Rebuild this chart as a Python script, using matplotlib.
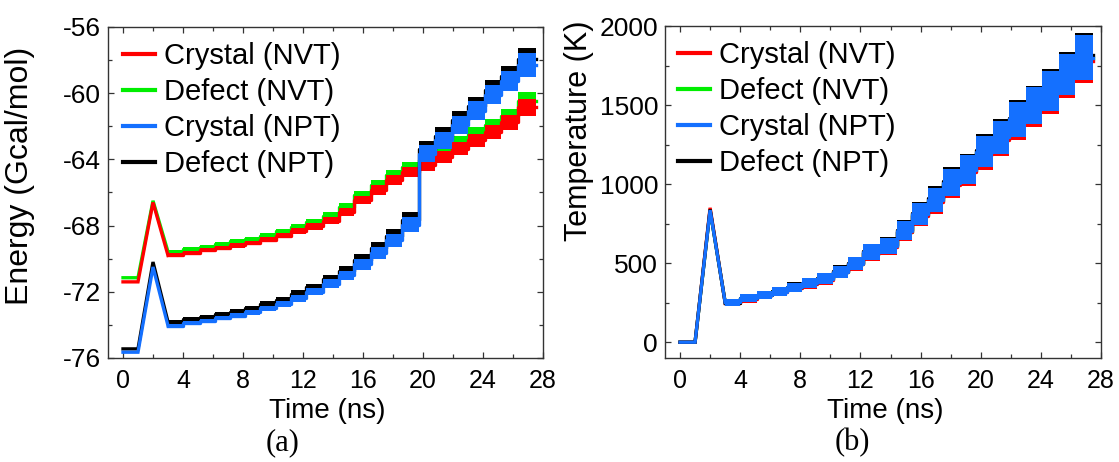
import matplotlib
matplotlib.use("Agg")
import matplotlib.pyplot as plt
import numpy as np
from matplotlib.ticker import MultipleLocator

plt.rcParams['font.family'] = ['Liberation Sans', 'DejaVu Sans']
plt.rcParams['axes.unicode_minus'] = False

# heating ramp: hold, spike at 2 ns, quench at 3 ns
ramp_t = [0.0, 1.0, 2.0, 3.0]
# start of every 1 ns-ish heating stage, last stage ends at t_end
seg_t = [3.0, 4.0, 5.1, 6.1, 7.1, 8.1, 9.1, 10.2, 11.2, 12.2, 13.3, 14.4,
         15.4, 16.5, 17.5, 18.6, 19.7, 20.8, 21.9, 23.0, 24.1, 25.2, 26.3]
t_end = 27.5

names = ['Crystal (NVT)', 'Defect (NVT)', 'Crystal (NPT)', 'Defect (NPT)']
colors = ['#ff0000', '#00ee00', '#1470ff', '#000000']

# energy (Gcal/mol)
e_hold = [-71.40, -71.15, -75.65, -75.45]
e_peak = [-66.60, -66.50, -70.50, -70.20]
e_red = [-69.80, -69.65, -69.50, -69.35, -69.20, -69.05, -68.85, -68.60, -68.35, -68.05, -67.70, -67.15,
         -66.45, -65.85, -65.25, -64.75, -64.35, -63.85, -63.35, -62.85, -62.35, -61.75, -60.85]
e_green = [-69.58, -69.42, -69.27, -69.12, -68.96, -68.80, -68.60, -68.34, -68.08, -67.78, -67.42, -66.85,
           -66.15, -65.55, -64.95, -64.45, -64.02, -63.50, -62.98, -62.45, -61.95, -61.38, -60.45]
e_blue = [-74.05, -73.90, -73.75, -73.60, -73.45, -73.25, -73.00, -72.75, -72.40, -72.00, -71.50, -71.00,
          -70.35, -69.65, -68.90, -67.95, -63.65, -62.85, -61.90, -61.05, -60.10, -59.25, -58.30]
e_black = [-73.82, -73.66, -73.50, -73.35, -73.20, -72.98, -72.74, -72.48, -72.12, -71.72, -71.22, -70.72,
           -70.06, -69.36, -68.60, -67.65, -63.38, -62.58, -61.62, -60.76, -59.80, -58.95, -57.95]
# fluctuation half-width per stage
e_spread_nvt = [0.12, 0.12, 0.12, 0.12, 0.13, 0.14, 0.15, 0.16, 0.18, 0.20, 0.22, 0.24,
                0.26, 0.28, 0.30, 0.32, 0.34, 0.36, 0.38, 0.40, 0.42, 0.45, 0.50]
e_spread_npt = [0.12, 0.12, 0.12, 0.13, 0.14, 0.15, 0.16, 0.18, 0.20, 0.22, 0.25, 0.28,
                0.32, 0.36, 0.40, 0.45, 0.50, 0.52, 0.55, 0.55, 0.58, 0.60, 0.70]

# temperature (K)
t_hold = [0, 0, 0, 0]
t_peak = [850, 835, 835, 840]
t_red = [250, 275, 296, 318, 345, 370, 396, 443, 492, 562, 603, 698,
         800, 888, 995, 1078, 1188, 1280, 1392, 1478, 1570, 1675, 1780]
t_green = [254, 279, 299, 322, 348, 372, 401, 447, 496, 566, 608, 700,
           802, 890, 1000, 1085, 1196, 1288, 1400, 1488, 1582, 1690, 1795]
t_blue = [252, 278, 297, 320, 347, 373, 400, 446, 497, 570, 610, 705,
          810, 900, 1010, 1092, 1205, 1295, 1410, 1495, 1590, 1695, 1800]
t_black = [251, 280, 300, 323, 350, 377, 404, 450, 500, 575, 616, 712,
           818, 910, 1020, 1102, 1215, 1306, 1420, 1505, 1600, 1708, 1815]
t_spread = [22, 25, 25, 28, 30, 32, 35, 38, 42, 48, 52, 60,
            68, 75, 85, 90, 100, 105, 110, 118, 125, 130, 140]

LW = 2.4
zorders = [3, 2, 5, 4]


def draw_series(ax, hold, peak, levels, spread, color, z):
    ramp_v = [hold, hold, peak, levels[0]]
    ax.plot(ramp_t, ramp_v, color=color, lw=LW, zorder=z, solid_joinstyle='miter')
    xs = np.array(seg_t + [t_end])
    lv = np.array(levels + [levels[-1]])
    sp = np.array(spread + [spread[-1]])
    ax.fill_between(xs, lv - sp, lv + sp, step='post', color=color, lw=0, zorder=z)
    ax.step(xs, lv, where='post', color=color, lw=LW, zorder=z)


def style_axes(ax, ymajor, yminor):
    ax.set_xlim(-1, 28)
    ax.xaxis.set_major_locator(MultipleLocator(4))
    ax.xaxis.set_minor_locator(MultipleLocator(2))
    ax.yaxis.set_major_locator(MultipleLocator(ymajor))
    ax.yaxis.set_minor_locator(MultipleLocator(yminor))
    ax.tick_params(which='both', direction='in', top=True, right=True, width=0.9, color='#333333')
    ax.tick_params(which='major', length=4.5)
    ax.tick_params(which='minor', length=3)
    ax.tick_params(axis='x', labelsize=18, pad=8)
    ax.tick_params(axis='y', labelsize=19, pad=5)
    for s in ax.spines.values():
        s.set_linewidth(1.0)
        s.set_color('#333333')


fig = plt.figure(figsize=(11.19, 4.62), dpi=100)
ax1 = fig.add_axes([108 / 1119, 104 / 462, 435 / 1119, 331 / 462])
ax2 = fig.add_axes([665 / 1119, 104 / 462, 436 / 1119, 332 / 462])

e_levels = [e_red, e_green, e_blue, e_black]
e_spreads = [e_spread_nvt, e_spread_nvt, e_spread_npt, e_spread_npt]
for i in range(4):
    draw_series(ax1, e_hold[i], e_peak[i], e_levels[i], e_spreads[i], colors[i], zorders[i])

t_levels = [t_red, t_green, t_blue, t_black]
for i in range(4):
    draw_series(ax2, t_hold[i], t_peak[i], t_levels[i], t_spread, colors[i], zorders[i])

style_axes(ax1, 4, 2)
ax1.set_ylim(-76, -56)
style_axes(ax2, 500, 250)
ax2.set_ylim(-100, 2000)

ax1.set_ylabel('Energy (Gcal/mol)', fontsize=23)
ax1.yaxis.set_label_coords(-0.168, 0.55)
ax2.set_ylabel('Temperature (K)', fontsize=22)
ax2.yaxis.set_label_coords(-0.163, 0.683)
for ax in (ax1, ax2):
    ax.set_xlabel('Time (ns)', fontsize=20)
    ax.xaxis.set_label_coords(0.505, -0.12)

handles = [plt.Line2D([], [], color=c, lw=3) for c in colors]
for ax, dx in ((ax1, 15 / 435), (ax2, 13 / 436)):
    ax.legend(handles, names, loc='upper left', bbox_to_anchor=(dx, 0.955), frameon=False,
              fontsize=21, handlelength=1.1, handletextpad=0.3, labelspacing=0.28,
              borderpad=0, borderaxespad=0)

fig.text(283 / 1119, 1 - 443 / 462, '(a)', fontsize=22, family=['Liberation Serif', 'DejaVu Serif'],
         ha='center', va='center')
fig.text(852 / 1119, 1 - 443 / 462, '(b)', fontsize=22, family=['Liberation Serif', 'DejaVu Serif'],
         ha='center', va='center')

fig.savefig('out.png', dpi=100)
